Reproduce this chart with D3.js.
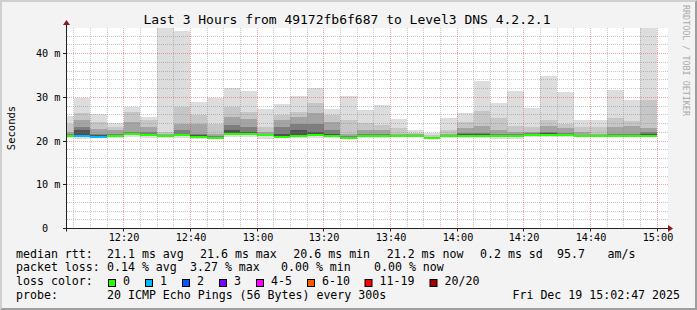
<html>
  <head>
    <meta charset="utf-8">
    <style>
body { margin: 0; background: #f3f3f3; }
text { font-family: "DejaVu Sans Mono", monospace; white-space: pre; fill: #000; }
    </style>
    <script src="https://d3js.org/d3.v7.min.js"></script>
  </head>
  <body>
    <svg width="697" height="310"></svg>
    <script>

// 5 minute bins, labelled by their end time
var binEnds = ["12:05","12:10","12:15","12:20","12:25","12:30","12:35","12:40","12:45","12:50",
               "12:55","13:00","13:05","13:10","13:15","13:20","13:25","13:30","13:35","13:40",
               "13:45","13:50","13:55","14:00","14:05","14:10","14:15","14:20","14:25","14:30",
               "14:35","14:40","14:45","14:50","14:55","15:00"];

// smoke bands (ms), outermost to innermost
var smokeTop = [25.7,29.9,26.1,24.1,27.8,25.4,45.8,45.2,28.9,29.9,32.2,31.4,27.4,28.4,30.2,32.2,27.4,30.2,
                27.0,28.2,25.0,22.5,21.9,25.3,26.3,33.7,28.7,31.4,27.6,34.8,31.1,24.7,24.7,31.6,29.3,45.8];
var smokeL2  = [24.0,26.3,24.4,23.2,26.7,24.8,22.1,27.8,25.9,24.0,27.7,26.7,23.2,25.9,26.7,28.6,25.9,24.8,
                24.1,23.6,22.9,21.8,21.3,22.5,24.4,26.8,25.3,23.4,23.2,24.8,24.0,23.2,23.1,25.3,24.6,29.3];
var smokeL3  = [22.1,24.9,22.7,22.5,24.4,23.2,21.7,24.0,24.0,21.7,25.5,25.1,22.1,24.8,25.5,26.3,24.4,21.5,
                22.6,22.5,21.6,21.5,21.0,21.6,22.9,23.4,22.5,22.1,22.1,23.5,22.9,22.1,21.6,23.1,23.4,22.9];
var smokeL4  = [21.7,23.2,21.7,21.7,22.1,22.1,21.4,22.5,21.7,21.2,23.6,23.2,21.7,23.2,24.0,24.0,22.5,21.2,
                21.5,21.6,21.4,21.3,20.9,21.4,21.9,21.9,21.5,21.5,21.9,22.1,21.9,21.4,21.4,21.5,21.6,22.1];
var smokeL5  = [21.4,22.5,21.4,21.4,21.8,21.7,21.3,21.7,21.3,21.0,22.5,22.1,21.5,21.7,22.5,22.1,21.6,21.0,
                21.3,21.3,21.3,21.2,20.8,21.3,21.5,21.5,21.3,21.3,21.7,21.8,21.7,21.3,21.3,21.3,21.4,21.6];
var smokeMin = [20.8,20.5,20.6,20.7,20.9,20.8,20.8,20.6,20.4,20.5,20.9,20.9,20.5,20.7,20.8,20.8,20.6,20.4,
                20.6,20.7,20.9,20.9,20.6,20.8,20.8,20.8,20.4,20.4,21.0,21.0,21.0,20.9,20.9,20.9,20.9,20.9];
var medianRtt = [21.1,21.2,21.0,21.1,21.5,21.4,21.1,21.4,20.9,20.75,21.5,21.5,21.3,21.0,21.1,21.3,21.1,20.75,
                 21.1,21.1,21.1,21.1,20.75,21.1,21.1,21.1,21.1,21.1,21.4,21.4,21.4,21.1,21.1,21.1,21.1,21.1];
var lostPings = [0,1,1,0,0,0,0,0,0,0,0,0,0,0,0,0,0,0,0,0,0,0,0,0,0,0,0,0,0,0,0,0,0,0,0,0];

var yTicks = [0, 10, 20, 30, 40];
var yTickLabels = ["0  ", "10 m", "20 m", "30 m", "40 m"];

var lossLabels = ["0", "1", "2", "3", "4-5", "6-10", "11-19", "20/20"];
var lossColors = ["#26ff00", "#00b8ff", "#0059ff", "#7e00ff", "#ff00ff", "#ff5a00", "#ff0000", "#a10000"];

var svg = d3.select("svg"),
    W = 697, H = 310,
    plotL = 67, plotR = 667, plotT = 28, plotB = 228.5;

var parse = d3.timeParse("%H:%M");
var x = d3.scaleTime().domain([parse("12:03"), parse("15:03")]).range([plotL, plotR]),
    y = d3.scaleLinear().domain([0, 45.83]).range([plotB, plotT]);

function lossColor(n) {
  if (n <= 3) return lossColors[n];
  if (n <= 5) return lossColors[4];
  if (n <= 10) return lossColors[5];
  if (n <= 19) return lossColors[6];
  return lossColors[7];
}

// background + shaded frame
svg.append("rect").attr("width", W).attr("height", H).attr("fill", "#f3f3f3");
svg.append("path").attr("d", "M0,0H697L695,2H2V308L0,310Z").attr("fill", "#cfcfcf");
svg.append("path").attr("d", "M697,0V310H0L2,308H695V2Z").attr("fill", "#9e9e9e");

// canvas
svg.append("rect").attr("x", plotL).attr("y", plotT)
  .attr("width", plotR - plotL + 1).attr("height", plotB - plotT)
  .attr("fill", "#fff");

svg.append("clipPath").attr("id", "plot")
  .append("rect").attr("x", plotL).attr("y", plotT)
  .attr("width", plotR - plotL).attr("height", plotB - plotT);

var bins = binEnds.map(function(t, i) {
  var end = parse(t);
  return {
    i: i,
    x0: Math.round(Math.max(plotL, x(d3.timeMinute.offset(end, -5)))),
    x1: Math.round(x(end))
  };
});

var g = svg.append("g").attr("clip-path", "url(#plot)");

// smoke
var layers = [
  {hi: smokeTop, lo: smokeMin, color: "#dddddd"},
  {hi: smokeL2, lo: medianRtt, color: "#c6c6c6"},
  {hi: smokeL3, lo: medianRtt, color: "#a4a4a4"},
  {hi: smokeL4, lo: medianRtt, color: "#7e7e7e"},
  {hi: smokeL5, lo: medianRtt, color: "#525252"}
];

layers.forEach(function(L) {
  g.selectAll(null)
    .data(bins)
    .enter().append("rect")
    .attr("x", function(d) { return d.x0; })
    .attr("width", function(d) { return d.x1 - d.x0; })
    .attr("y", function(d) { return Math.round(y(L.hi[d.i])); })
    .attr("height", function(d) { return Math.max(0, Math.round(y(L.lo[d.i])) - Math.round(y(L.hi[d.i]))); })
    .attr("fill", L.color);
});

// median, coloured by loss
g.selectAll(".median")
  .data(bins)
  .enter().append("rect")
  .attr("class", "median")
  .attr("x", function(d) { return d.x0; })
  .attr("width", function(d) { return d.x1 - d.x0; })
  .attr("y", function(d) { return Math.round(y(medianRtt[d.i])) - 1; })
  .attr("height", 2)
  .attr("fill", function(d) { return lossColor(lostPings[d.i]); });

// grid
var grid = svg.append("g");
d3.range(2, 46, 2).forEach(function(v) {
  var yy = Math.round(y(v) - 0.5) + 0.5;
  grid.append("line")
    .attr("x1", plotL).attr("x2", plotR + 1).attr("y1", yy).attr("y2", yy)
    .attr("stroke", v % 10 === 0 ? "rgba(225,60,60,0.45)" : "rgba(130,130,130,0.45)")
    .attr("stroke-dasharray", "1,1");
});
var minutes = d3.timeMinute.every(5).range(parse("12:05"), parse("15:03"));
minutes.forEach(function(t) {
  var xx = Math.round(x(t) - 0.5) + 0.5;
  grid.append("line")
    .attr("x1", xx).attr("x2", xx).attr("y1", plotT).attr("y2", plotB)
    .attr("stroke", t.getMinutes() % 20 === 0 ? "rgba(225,60,60,0.45)" : "rgba(130,130,130,0.45)")
    .attr("stroke-dasharray", "1,1");
});

// axes
var axisColor = "#202020", arrowColor = "#8b1a1a";
svg.append("line").attr("x1", 64).attr("x2", plotR + 2).attr("y1", plotB).attr("y2", plotB)
  .attr("stroke", axisColor);
svg.append("line").attr("x1", plotL - 0.5).attr("x2", plotL - 0.5).attr("y1", plotB + 3).attr("y2", plotT - 3)
  .attr("stroke", axisColor);
svg.append("path").attr("d", "M" + (plotR + 1) + "," + (plotB - 3.5) + "L" + (plotR + 6) + "," + plotB + "L" + (plotR + 1) + "," + (plotB + 3.5) + "Z")
  .attr("fill", arrowColor);
svg.append("path").attr("d", "M" + (plotL - 4) + "," + (plotT - 3) + "L" + (plotL - 0.5) + "," + (plotT - 8) + "L" + (plotL + 3) + "," + (plotT - 3) + "Z")
  .attr("fill", arrowColor);

// y ticks + labels
yTicks.forEach(function(v, i) {
  var yy = Math.round(y(v) - 0.5) + 0.5;
  svg.append("line").attr("x1", plotL - 4).attr("x2", plotL).attr("y1", yy).attr("y2", yy)
    .attr("stroke", axisColor);
  svg.append("text")
    .attr("x", 60.5).attr("y", yy + 3.8)
    .attr("text-anchor", "end")
    .style("font-size", "10.2px")
    .text(yTickLabels[i]);
});

// x ticks + labels
minutes.filter(function(t) { return t.getMinutes() % 20 === 0; }).forEach(function(t) {
  var xx = Math.round(x(t) - 0.5) + 0.5;
  svg.append("line").attr("x1", xx).attr("x2", xx).attr("y1", plotB).attr("y2", plotB + 3)
    .attr("stroke", axisColor);
  svg.append("text")
    .attr("x", xx + 0.5).attr("y", 241)
    .attr("text-anchor", "middle")
    .style("font-size", "10.2px")
    .text(d3.timeFormat("%H:%M")(t));
});

// title
svg.append("text")
  .attr("x", 347).attr("y", 24)
  .attr("text-anchor", "middle")
  .style("font-size", "13px")
  .text("Last 3 Hours from 49172fb6f687 to Level3 DNS 4.2.2.1");

// y axis title
svg.append("text")
  .attr("transform", "translate(15,128) rotate(-90)")
  .attr("text-anchor", "middle")
  .style("font-size", "10.5px")
  .text("Seconds");

// watermark
svg.append("text")
  .attr("transform", "translate(683,5) rotate(90)")
  .style("font-size", "8.4px")
  .style("fill", "#aaaaaa")
  .text("RRDTOOL / TOBI OETIKER");

// legend
var legend = svg.append("g").style("font-size", "11.6px");
function put(xx, yy, s) {
  legend.append("text").attr("x", xx).attr("y", yy).text(s);
}

put(16, 257.5, "median rtt:");
put(107, 257.5, "21.1 ms avg");
put(200, 257.5, "21.6 ms max");
put(293.3, 257.5, "20.6 ms min");
put(386.7, 257.5, "21.2 ms now");
put(480, 257.5, "0.2 ms sd");
put(557, 257.5, "95.7");
put(607.5, 257.5, "am/s");

put(16, 271.3, "packet loss:");
put(107, 271.3, "0.14 % avg");
put(190, 271.3, "3.27 % max");
put(281, 271.3, "0.00 % min");
put(374, 271.3, "0.00 % now");

put(16, 285.3, "loss color:");
var boxX = [108.5, 145.5, 182.5, 219.5, 256.5, 307.5, 365, 430];
lossLabels.forEach(function(l, i) {
  legend.append("rect")
    .attr("x", boxX[i]).attr("y", 279.5)
    .attr("width", 7).attr("height", 7)
    .attr("fill", lossColors[i])
    .attr("stroke", "#000");
  put(boxX[i] + 14.5, 285.3, l);
});

put(16, 299, "probe:");
put(107, 299, "20 ICMP Echo Pings (56 Bytes) every 300s");
legend.append("text").attr("x", 680).attr("y", 299).attr("text-anchor", "end")
  .text("Fri Dec 19 15:02:47 2025");

    </script>
  </body>
</html>
